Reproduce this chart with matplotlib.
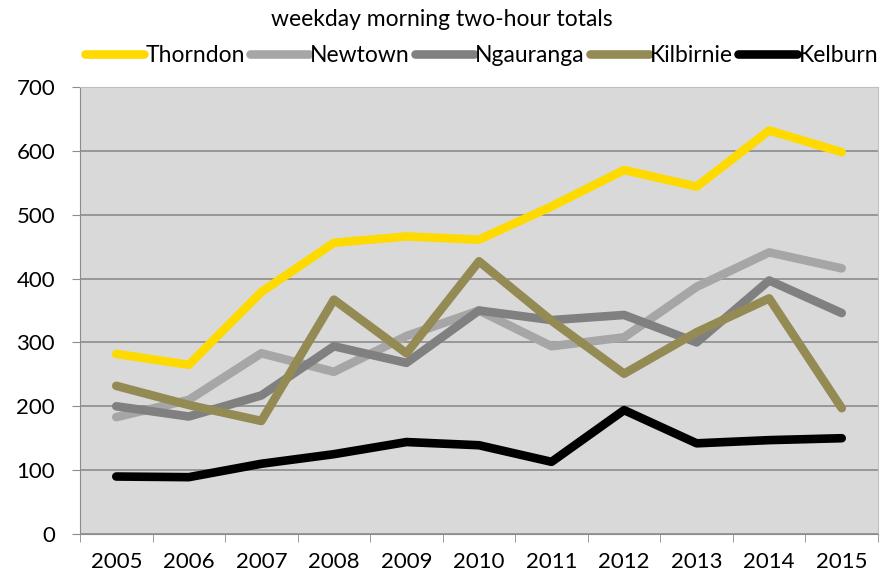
import numpy as np
import matplotlib
matplotlib.use('Agg')
import matplotlib.pyplot as plt

years = ['2005', '2006', '2007', '2008', '2009', '2010', '2011', '2012', '2013', '2014', '2015']

thorndon = [282, 265, 379, 456, 466, 461, 513, 570, 544, 632, 598]
newtown = [183, 210, 283, 254, 310, 350, 294, 308, 387, 441, 416]
ngauranga = [200, 184, 217, 294, 268, 350, 335, 343, 300, 397, 346]
kilbirnie = [232, 202, 177, 367, 283, 427, 334, 251, 316, 369, 197]
kelburn = [90, 89, 110, 125, 144, 139, 113, 194, 142, 147, 150]

series = [
    ('Thorndon', thorndon, '#FFDA00'),
    ('Newtown', newtown, '#A6A6A6'),
    ('Ngauranga', ngauranga, '#808080'),
    ('Kilbirnie', kilbirnie, '#948A54'),
    ('Kelburn', kelburn, '#000000'),
]

plt.rcParams['font.family'] = ['Lato', 'DejaVu Sans']

fig = plt.figure(figsize=(8.83, 5.81), dpi=100)
ax = fig.add_axes([80 / 883, 1 - 534 / 581, 798 / 883, 447 / 581])
ax.set_facecolor('#D9D9D9')

x = np.arange(len(years))
for name, vals, col in series:
    ax.plot(x, vals, color=col, lw=6.2, solid_capstyle='round',
            solid_joinstyle='round', label=name, zorder=3)

ax.set_xlim(-0.5, len(years) - 0.5)
ax.set_ylim(0, 700)
ax.set_yticks(range(0, 701, 100))
ax.set_xticks(x)
ax.set_xticklabels(years)
ax.set_xticks(np.arange(-0.5, len(years), 1), minor=True)
ax.tick_params(axis='x', which='major', length=0, pad=13, labelsize=16)
ax.tick_params(axis='x', which='minor', length=6, color='#8C8C8C', direction='out')
ax.tick_params(axis='y', length=6, color='#8C8C8C', pad=12, labelsize=16)
ax.grid(axis='y', color='#8C8C8C', lw=1.2, zorder=1)

for side in ['top', 'right']:
    ax.spines[side].set_color('#BFBFBF')
for side in ['left', 'bottom']:
    ax.spines[side].set_color('#8C8C8C')

fig.text(0.5, 1 - 20 / 581, 'weekday morning two-hour totals', ha='center', va='center', fontsize=16.5)
fig.legend(loc='center', bbox_to_anchor=(0.5 + 40 / 883, 1 - 56 / 581), ncol=5, frameon=False,
           fontsize=16.5, handlelength=2.6, handletextpad=0.05, columnspacing=0.2)

fig.savefig('out.png', dpi=100)
